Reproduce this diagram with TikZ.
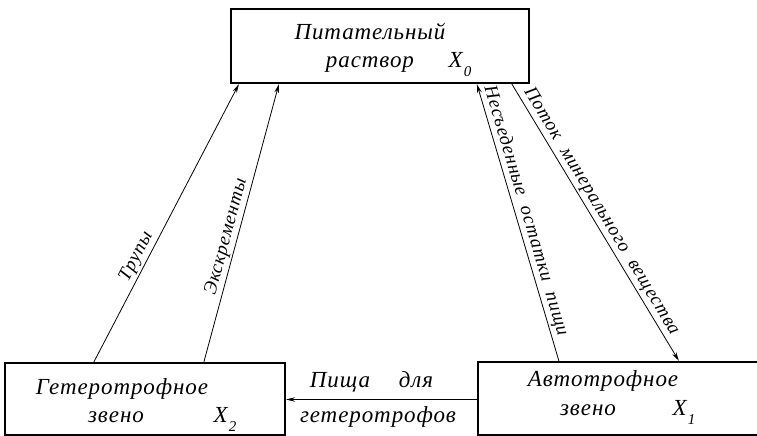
\documentclass[tikz,border=0pt]{standalone}
\usepackage{fontspec}
\setmainfont{Liberation Serif}[LetterSpace=4]
\usetikzlibrary{arrows.meta}
\newcommand{\idx}[1]{\kern1pt\raisebox{-0.35em}{\fontsize{15}{15}\selectfont #1}}
\newcommand{\wgap}{\hspace{0.6em}}
\begin{document}
\begin{tikzpicture}[x=1pt,y=1pt,
  box/.style={draw, line width=2.2pt, inner sep=0pt},
  flow/.style={line width=0.8pt, -{Stealth[length=9pt,width=4.5pt]}},
  txt/.style={font=\fontsize{23}{26}\selectfont\itshape, inner sep=0pt, anchor=base},
  lbl/.style={font=\fontsize{19}{22}\selectfont\itshape, inner sep=2pt, sloped, above},
]
\useasboundingbox (0,0) rectangle (757,436);
\clip (0,0) rectangle (757,436);

% blocks
\node[box, minimum width=298pt, minimum height=74pt] (sol) at (380,390) {};
\node[box, minimum width=280pt, minimum height=72pt] (het) at (145,37) {};
\node[box, minimum width=292pt, minimum height=73pt] (aut) at (624,37.5) {};

% block texts
\node[txt] (solA) at (370,396) {Питательный};
\node[txt] (solB) at (370,368) {раствор};
\node[txt] (solX) at (460,368) {X\idx{0}};

\node[txt] (hetA) at (122,41) {Гетеротрофное};
\node[txt] (hetB) at (116,13) {звено};
\node[txt] (hetX) at (225,13) {X\idx{2}};

\node[txt] (autA) at (603,49) {Автотрофное};
\node[txt] (autB) at (588,20) {звено};
\node[txt] (autX) at (684,20) {X\idx{1}};

% flows between the blocks
\draw[flow] ([xshift=90pt]het.north west) -- ([xshift=9pt]sol.south west)
  node[lbl, pos=0.36] {Трупы};
\draw[flow] ([xshift=200pt]het.north west) -- ([xshift=49pt]sol.south west)
  node[lbl, pos=0.44] {Экскременты};
\draw[flow, {Stealth[length=9pt,width=4.5pt]}-] ([xshift=247pt]sol.south west) -- ([xshift=82pt]aut.north west)
  node[lbl, pos=0.47] {Несъеденные\wgap остатки\wgap пищи};
\draw[flow] ([xshift=282pt]sol.south west) -- ([xshift=202pt]aut.north west)
  node[lbl, pos=0.48] {Поток\wgap минерального\wgap вещества};
\draw[flow] ([yshift=-1pt]aut.west) -- ([yshift=-1pt]het.east |- aut.west);

\node[txt] (foodA) at (340,48) {Пища};
\node[txt] (foodB) at (416,48) {для};
\node[txt] (foodC) at (378,13) {гетеротрофов};
\end{tikzpicture}
\end{document}
